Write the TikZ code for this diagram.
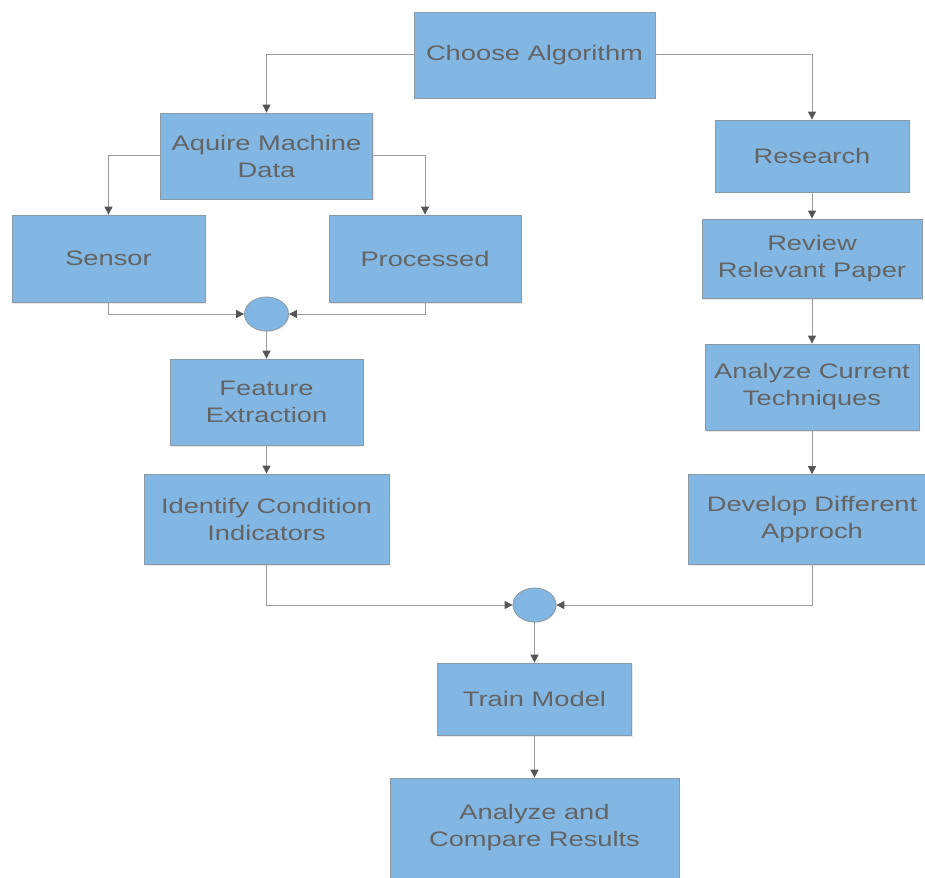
\documentclass[tikz,border=0pt]{standalone}
\usepackage{fontspec}
\setmainfont{Liberation Sans}[FakeStretch=1.3]
\usetikzlibrary{arrows.meta,shapes.geometric,shadows}
\definecolor{boxfill}{HTML}{83B7E3}
\definecolor{boxline}{HTML}{8C98A4}
\definecolor{txt}{HTML}{646464}
\definecolor{conn}{HTML}{9C9C9C}
\definecolor{tipc}{HTML}{555555}
\begin{document}
\begin{tikzpicture}[x=1pt,y=-1pt,
  box/.style={rectangle, draw=boxline, line width=0.8pt, fill=boxfill, text=txt,
    align=center, inner sep=0pt, font=\fontsize{21}{27}\selectfont,
    drop shadow={opacity=0.18, shadow xshift=1.2pt, shadow yshift=-1.5pt}},
  joint/.style={ellipse, draw=boxline, line width=0.8pt, fill=boxfill, inner sep=0pt,
    minimum width=44pt, minimum height=34pt,
    drop shadow={opacity=0.18, shadow xshift=1pt, shadow yshift=-1pt}},
  link/.style={draw=conn, line width=1pt, -{Triangle[width=8pt,length=8pt,color=tipc]}}]
\useasboundingbox (0,0) rectangle (925,877);
\begin{scope}
\clip (0,0) rectangle (925,877);
\node[box, minimum width=241pt, minimum height=86pt] (choose) at (534.5,55) {Choose Algorithm};
\node[box, minimum width=212pt, minimum height=86pt] (aquire) at (266.5,156) {Aquire Machine\\Data};
\node[box, minimum width=194pt, minimum height=72pt] (research) at (812,156) {Research};
\node[box, minimum width=193pt, minimum height=87pt] (sensor) at (108.5,258.5) {Sensor};
\node[box, minimum width=192pt, minimum height=87pt] (processed) at (425,258.5) {Processed};
\node[box, minimum width=220pt, minimum height=79pt] (review) at (812,258.5) {Review\\Relevant Paper};
\node[joint] (e1) at (266.5,314) {};
\node[box, minimum width=193pt, minimum height=86pt] (feature) at (266.5,402) {Feature\\Extraction};
\node[box, minimum width=214pt, minimum height=86pt] (analyze) at (812,387) {Analyze Current\\Techniques};
\node[box, minimum width=245pt, minimum height=90pt] (identify) at (266.5,519) {Identify Condition\\Indicators};
\node[box, minimum width=248pt, minimum height=90pt] (develop) at (812,519.5) {Develop Different\\Approch};
\node[joint, minimum width=43pt] (e2) at (534.5,605) {};
\node[box, minimum width=194pt, minimum height=72pt] (train) at (534.5,699) {Train Model};
\node[box, minimum width=289pt, minimum height=100pt] (results) at (534.5,828) {Analyze and\\Compare Results};

\draw[link] (choose.west) -| (aquire.north);
\draw[link] (choose.east) -| (research.north);
\draw[link] (aquire.west) -| (sensor.north);
\draw[link] (aquire.east) -| (processed.north);
\draw[link] (sensor.south) |- (e1.west);
\draw[link] (processed.south) |- (e1.east);
\draw[link] (e1.south) -- (feature.north);
\draw[link] (feature.south) -- (identify.north);
\draw[link] (research.south) -- (review.north);
\draw[link] (review.south) -- (analyze.north);
\draw[link] (analyze.south) -- (develop.north);
\draw[link] (identify.south) |- (e2.west);
\draw[link] (develop.south) |- (e2.east);
\draw[link] (e2.south) -- (train.north);
\draw[link] (train.south) -- (results.north);
\end{scope}
\end{tikzpicture}
\end{document}
